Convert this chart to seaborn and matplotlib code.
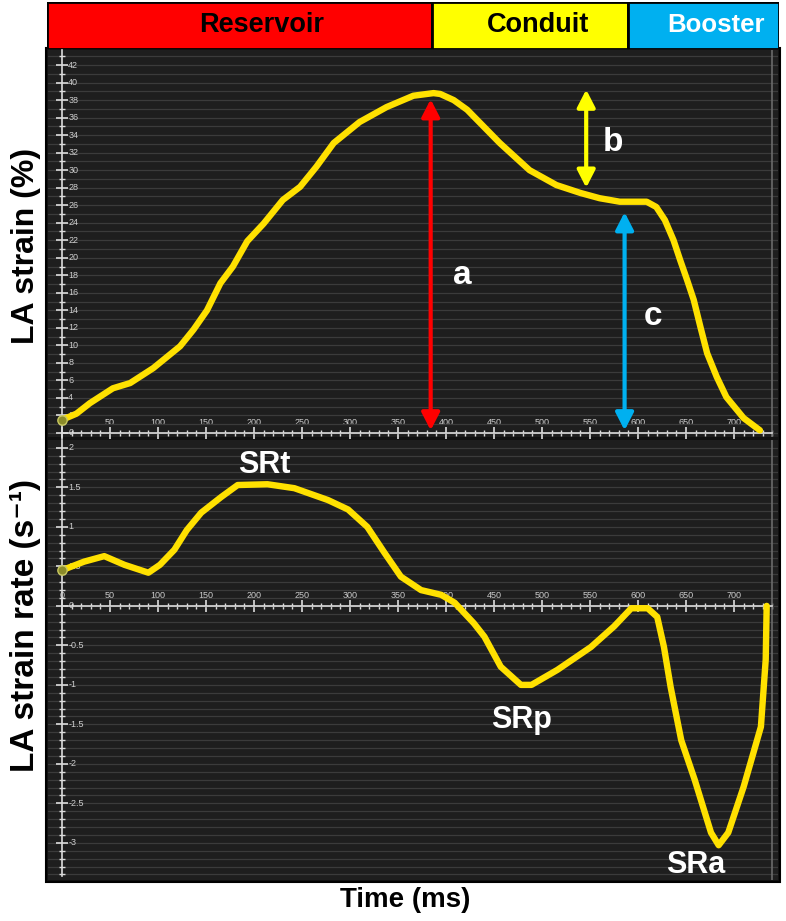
import numpy as np
import pandas as pd
import matplotlib
matplotlib.use("Agg")
import matplotlib.pyplot as plt
import seaborn as sns
from matplotlib.ticker import FixedLocator, FixedFormatter
from matplotlib.patches import Rectangle

# ---------------- data ----------------
strain_time = [0, 15, 29, 53, 71, 95, 123, 137, 151, 165, 178, 193, 210, 230, 248, 265, 283, 310, 338,
               366, 387, 394, 408, 422, 439, 456, 487, 515, 540, 560, 581, 609, 619, 628, 637, 644,
               651, 658, 665, 672, 682, 692, 710, 727]
strain_vals = [1.5, 2.2, 3.4, 5.1, 5.7, 7.4, 9.9, 11.8, 14.0, 17.1, 19.0, 21.9, 23.9, 26.6, 28.1, 30.4,
               33.1, 35.5, 37.2, 38.5, 38.8, 38.7, 38.0, 36.9, 35.0, 33.1, 30.0, 28.3, 27.4, 26.8,
               26.4, 26.4, 25.8, 24.3, 22.0, 19.7, 17.5, 15.2, 12.1, 9.1, 6.4, 4.1, 1.7, 0.3]

rate_time = [0, 6, 23, 44, 65, 90, 102, 117, 130, 145, 166, 183, 214, 242, 277, 298, 318, 336, 353,
             374, 395, 409, 429, 440, 457, 478, 489, 516, 551, 575, 593, 610, 620, 627, 634, 645,
             659, 676, 684, 694, 710, 728, 733, 734]
rate_vals = [0.45, 0.48, 0.56, 0.63, 0.52, 0.42, 0.52, 0.71, 0.96, 1.18, 1.38, 1.53, 1.54, 1.49, 1.34,
             1.22, 1.0, 0.67, 0.37, 0.20, 0.14, 0.04, -0.22, -0.39, -0.77, -1.0, -1.0, -0.81, -0.52,
             -0.26, -0.03, -0.03, -0.14, -0.52, -1.03, -1.70, -2.2, -2.87, -3.03, -2.87, -2.29,
             -1.53, -0.68, 0.0]

phase_names = ["Reservoir", "Conduit", "Booster"]
phase_start = [-15, 385, 589]
phase_end = [385, 589, 746]
phase_label_t = [208, 495, 680]
phase_colors = ["#ff0000", "#ffff00", "#00b0f0"]
phase_text_colors = ["#000000", "#000000", "#ffffff"]

arrow_names = ["a", "b", "c"]
arrow_time = [384, 546, 586]
arrow_from = [0.3, 28.0, 0.3]
arrow_to = [38.1, 39.2, 25.2]
arrow_colors = ["#ff0000", "#ffff00", "#00b0f0"]
arrow_label_t = [417, 574, 616]
arrow_label_v = [18.0, 33.2, 13.3]

sr_names = ["SRt", "SRp", "SRa"]
sr_label_t = [211, 479, 660]
sr_label_v = [1.78, -1.44, -3.28]

strain_ticks_major = list(range(0, 43, 2))
strain_tick_labels = [str(v) for v in strain_ticks_major]
strain_ticks_minor = list(range(1, 44, 2))
rate_ticks_major = [2, 1.5, 1, 0.5, 0, -0.5, -1, -1.5, -2, -2.5, -3]
rate_tick_labels = ["2", "1.5", "1", "0.5", "0", "-0.5", "-1", "-1.5", "-2", "-2.5", "-3"]
rate_ticks_minor = [round(v / 10, 1) for v in range(-34, 21) if v % 5 != 0]
time_ticks_major = list(range(0, 701, 50))
time_tick_labels = [str(v) for v in time_ticks_major]
time_ticks_minor = [v for v in range(10, 741, 10) if v % 50 != 0]

# ---------------- style ----------------
sns.set_style("white")
plt.rcParams["font.family"] = ["Liberation Sans", "DejaVu Sans"]

W, H = 786, 921
fig = plt.figure(figsize=(W / 100, H / 100), dpi=100)
fig.patch.set_facecolor("white")


def px_axes(x0, y0, x1, y1):
    return fig.add_axes([x0 / W, 1 - y1 / H, (x1 - x0) / W, (y1 - y0) / H])


XL = (-14.6, 745.8)
BG = "#1e1e1e"
AXC = "#dcdcdc"
GRIDC = "#3b3b3b"
YEL = "#ffe100"

# outer black frame
fig.add_artist(Rectangle((46 / W, 1 - 882 / H), (780 - 46) / W, (882 - 48) / H,
                         transform=fig.transFigure, facecolor="#111111", edgecolor="#000000",
                         lw=1.5, zorder=0))

# ---------------- header ----------------
axh = px_axes(47, 2, 779, 49)
hdr = pd.DataFrame({"phase": phase_names, "start": phase_start, "end": phase_end})
axh.barh(y=[0] * len(hdr), width=hdr["end"] - hdr["start"], left=hdr["start"], height=1.0,
         color=phase_colors, edgecolor="black", linewidth=2)
for name, tx, tc, fs in zip(phase_names, phase_label_t, phase_text_colors, [19.5, 19.5, 18.5]):
    axh.text(tx, 0.02, name, ha="center", va="center", color=tc, fontsize=fs, fontweight="bold")
axh.set_xlim(XL)
axh.set_ylim(-0.5, 0.5)
axh.axis("off")


def style_panel(ax, ylim, yminor, ymajor, ylabels, yspine_bounds):
    ax.set_facecolor(BG)
    ax.set_xlim(XL)
    ax.set_ylim(ylim)
    for s in ["top", "right"]:
        ax.spines[s].set_visible(False)
    ax.spines["left"].set_position(("data", 0))
    ax.spines["bottom"].set_position(("data", 0))
    ax.spines["left"].set_bounds(*yspine_bounds)
    ax.spines["bottom"].set_bounds(0, 740)
    for s in ["left", "bottom"]:
        ax.spines[s].set_color(AXC)
        ax.spines[s].set_linewidth(1.2)
    ax.yaxis.set_major_locator(FixedLocator(ymajor))
    ax.yaxis.set_major_formatter(FixedFormatter(ylabels))
    ax.yaxis.set_minor_locator(FixedLocator(yminor))
    ax.xaxis.set_major_locator(FixedLocator(time_ticks_major))
    ax.xaxis.set_major_formatter(FixedFormatter(time_tick_labels))
    ax.xaxis.set_minor_locator(FixedLocator(time_ticks_minor))
    ax.tick_params(which="both", bottom=True, left=True, top=False, right=False)
    ax.tick_params(which="major", direction="inout", length=8, width=1.2, color=AXC,
                   labelsize=6.5, labelcolor="#cfcfcf")
    ax.tick_params(which="minor", direction="inout", length=5, width=1.0, color=AXC)
    ax.tick_params(axis="y", which="major", pad=-8.5)
    ax.tick_params(axis="x", which="major", pad=-8.5)
    plt.setp(ax.get_yticklabels(), ha="left", va="center")
    plt.setp(ax.get_xticklabels(), va="bottom")
    ax.grid(False)
    ax.yaxis.grid(True, which="both", color=GRIDC, lw=0.9)
    ax.xaxis.grid(False, which="both")
    ax.axvline(740, color="#6a6a6a", lw=1.2, zorder=1)


# ---------------- top panel: strain ----------------
ax1 = px_axes(48, 50, 778, 437)
style_panel(ax1, (-0.46, 43.72), strain_ticks_minor, strain_ticks_major, strain_tick_labels,
            (-0.46, 43.72))
df_s = pd.DataFrame({"time": strain_time, "strain": strain_vals})
sns.lineplot(data=df_s, x="time", y="strain", ax=ax1, color=YEL, lw=4.6, sort=False,
             estimator=None, zorder=5, solid_capstyle="round", solid_joinstyle="round")
sns.scatterplot(x=strain_time[:1], y=strain_vals[:1], ax=ax1, color="#8a8a2a", s=45, zorder=6,
                edgecolor="#c8c860", linewidth=1)
for name, t, y0, y1, c, lt, lv in zip(arrow_names, arrow_time, arrow_from, arrow_to, arrow_colors,
                                     arrow_label_t, arrow_label_v):
    ax1.annotate("", xy=(t, y1), xytext=(t, y0),
                 arrowprops=dict(arrowstyle="<|-|>,head_length=0.7,head_width=0.36", color=c, lw=3,
                                 shrinkA=0, shrinkB=0, mutation_scale=15), zorder=6)
    ax1.text(lt, lv, name, color="white", fontsize=24, fontweight="bold", ha="center", va="center",
             zorder=7)
ax1.set_xlabel("")
ax1.set_ylabel("")

# ---------------- bottom panel: strain rate ----------------
ax2 = px_axes(48, 440, 778, 880)
style_panel(ax2, (-3.47, 2.10), rate_ticks_minor, rate_ticks_major, rate_tick_labels, (-3.42, 2.10))
df_r = pd.DataFrame({"time": rate_time, "rate": rate_vals})
sns.lineplot(data=df_r, x="time", y="rate", ax=ax2, color=YEL, lw=4.6, sort=False,
             estimator=None, zorder=5, solid_capstyle="round", solid_joinstyle="round")
sns.scatterplot(x=rate_time[:1], y=rate_vals[:1], ax=ax2, color="#8a8a2a", s=45, zorder=6,
                edgecolor="#c8c860", linewidth=1)
for name, lt, lv in zip(sr_names, sr_label_t, sr_label_v):
    ax2.text(lt, lv, name, color="white", fontsize=22, fontweight="bold", ha="center", va="center",
             zorder=7)
ax2.set_xlabel("")
ax2.set_ylabel("")

# ---------------- outer labels ----------------
fig.text(26 / W, 1 - 246 / H, "LA strain (%)", rotation=90, ha="center", va="center",
         fontsize=23, fontweight="bold", color="black")
fig.text(26 / W, 1 - 626 / H, "LA strain rate (s\u207b\u00b9)", rotation=90, ha="center",
         va="center", fontsize=24, fontweight="bold", color="black")
fig.text(405 / W, 1 - 900 / H, "Time (ms)", ha="center", va="center", fontsize=20,
         fontweight="bold", color="black")

fig.savefig("out.png", dpi=100, facecolor="white")
